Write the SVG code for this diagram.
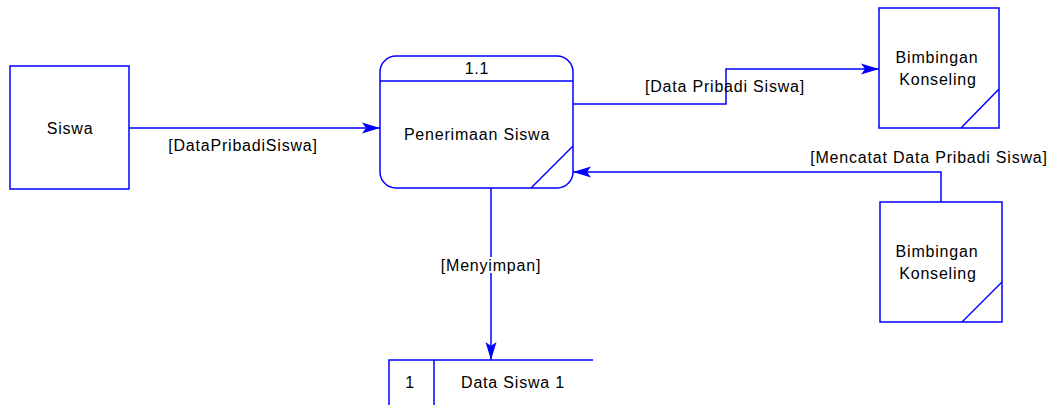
<svg xmlns="http://www.w3.org/2000/svg" width="1051" height="405" viewBox="0 0 1051 405">
<style>
.s{fill:#fff;stroke:#0000ff;stroke-width:1.5}
.l{fill:none;stroke:#0000ff;stroke-width:1.5}
.t{font-family:"Liberation Sans",Arial,sans-serif;font-size:16px;letter-spacing:0.8px;fill:#000;text-anchor:middle}
</style>
<defs>
<marker id="ah" markerWidth="18" markerHeight="12" refX="18" refY="6" orient="auto" markerUnits="userSpaceOnUse">
<path d="M0,0.5 L18,6 L0,11.5 L4,6 Z" fill="#0000ff"/>
</marker>
</defs>
<rect width="1051" height="405" fill="#fff"/>
<g id="connectors">
<line class="l" x1="129" y1="128" x2="380" y2="128" marker-end="url(#ah)"/>
<text class="t" x="243" y="151">[DataPribadiSiswa]</text>
<polyline class="l" points="573,104 726,104 726,69 879,69" marker-end="url(#ah)"/>
<text class="t" x="725" y="92">[Data Pribadi Siswa]</text>
<polyline class="l" points="941,202 941,172 573,172" marker-end="url(#ah)"/>
<text class="t" x="929" y="163">[Mencatat Data Pribadi Siswa]</text>
<line class="l" x1="491" y1="188" x2="491" y2="360" marker-end="url(#ah)"/>
<text class="t" x="491" y="271" style="paint-order:stroke;stroke:#fff;stroke-width:4">[Menyimpan]</text>
</g>
<g id="siswa">
<rect class="s" x="10" y="66" width="119" height="123"/>
<text class="t" x="70" y="134">Siswa</text>
</g>
<g id="proses">
<rect class="s" x="380" y="56" width="193" height="132" rx="16"/>
<line class="l" x1="380" y1="81" x2="573" y2="81"/>
<line class="l" x1="531" y1="188" x2="573" y2="146"/>
<text class="t" x="477" y="74">1.1</text>
<text class="t" x="477" y="140">Penerimaan Siswa</text>
</g>
<g id="bk1">
<rect class="s" x="879" y="8" width="120" height="120"/>
<line class="l" x1="961" y1="128" x2="999" y2="89"/>
<text class="t" x="937" y="63">Bimbingan</text>
<text class="t" x="938" y="85">Konseling</text>
</g>
<g id="bk2">
<rect class="s" x="880" y="202" width="122" height="120"/>
<line class="l" x1="962" y1="322" x2="1002" y2="282"/>
<text class="t" x="937" y="257">Bimbingan</text>
<text class="t" x="938" y="279">Konseling</text>
</g>
<g id="datastore">
<polyline class="l" points="593,360 389,360 389,405"/>
<line class="l" x1="434" y1="360" x2="434" y2="405"/>
<text class="t" x="410" y="388">1</text>
<text class="t" x="513" y="388">Data Siswa 1</text>
</g>
</svg>
